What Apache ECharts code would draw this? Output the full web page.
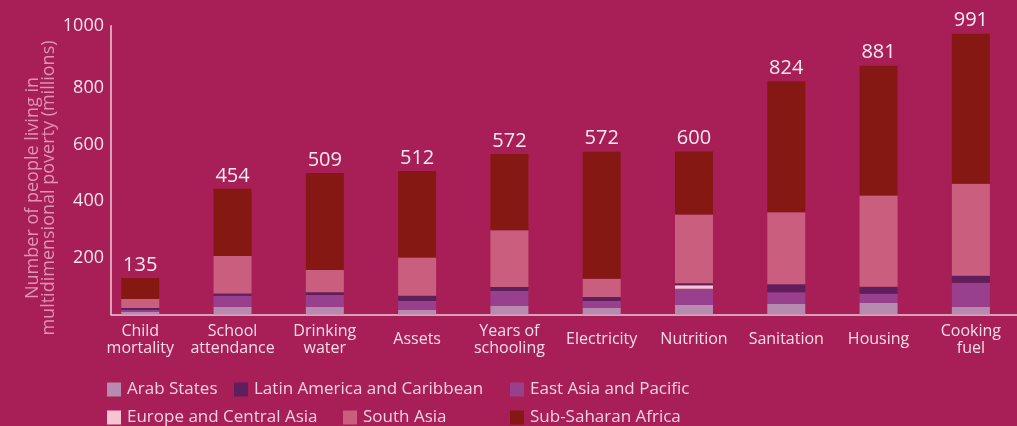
<!DOCTYPE html>
<html>
<head>
<meta charset="utf-8">
<script src="https://cdn.jsdelivr.net/npm/echarts@6/dist/echarts.min.js"></script>
<style>
html,body{margin:0;padding:0;background:#A71F56;}
#chart{width:1017px;height:426px;}
</style>
</head>
<body>
<div id="chart"></div>
<script>
const categories = ['Child\nmortality', 'School\nattendance', 'Drinking\nwater', 'Assets', 'Years of\nschooling', 'Electricity', 'Nutrition', 'Sanitation', 'Housing', 'Cooking\nfuel'];
const totals = [135, 454, 509, 512, 572, 572, 600, 824, 881, 991];
const arabStates = [10, 27, 27, 16, 30, 23, 34, 37, 41, 27];
const eastAsiaPacific = [6, 39, 42, 32, 53, 25, 57, 42, 32, 85];
const europeCentralAsia = [0, 0, 0, 0, 0, 0, 12, 0, 0, 0];
const latinAmerica = [7, 8, 10, 18, 14, 14, 7, 28, 25, 25];
const southAsia = [32, 133, 78, 135, 201, 64, 243, 254, 322, 325];
const subSaharan = [74, 237, 343, 306, 269, 449, 223, 463, 459, 530];
const yTicks = [200, 400, 600, 800, 1000];

const FONT = 'Open Sans';
const chart = echarts.init(document.getElementById('chart'));

const seriesDefs = [
  {name: 'Arab States', data: arabStates, color: '#B78AB0'},
  {name: 'East Asia and Pacific', data: eastAsiaPacific, color: '#98408E'},
  {name: 'Europe and Central Asia', data: europeCentralAsia, color: '#F7C5CF'},
  {name: 'Latin America and Caribbean', data: latinAmerica, color: '#5F1F5C'},
  {name: 'South Asia', data: southAsia, color: '#C95E7F'},
  {name: 'Sub-Saharan Africa', data: subSaharan, color: '#861814'}
];

const series = seriesDefs.map((s, si) => ({
  name: s.name,
  type: 'bar',
  stack: 'total',
  barWidth: 38,
  itemStyle: {color: s.color},
  encode: {x: 1, y: 0},
  data: s.data.map((v, i) => [v, i]),
  label: si === seriesDefs.length - 1 ? {
    show: true,
    position: 'top',
    distance: 3,
    color: '#F8EAF0',
    fontFamily: FONT,
    fontSize: 20,
    formatter: p => String(totals[p.dataIndex])
  } : {show: false},
  emphasis: {disabled: true}
}));

const legendPos = [
  ['Arab States', 107, 381],
  ['Latin America and Caribbean', 234, 381],
  ['East Asia and Pacific', 510, 381],
  ['Europe and Central Asia', 107, 409],
  ['South Asia', 343, 409],
  ['Sub-Saharan Africa', 510, 409]
];

const legends = legendPos.map(([n, l, t]) => ({
  data: [n],
  left: l,
  top: t,
  padding: 0,
  itemWidth: 14,
  itemHeight: 14,
  icon: 'rect',
  selectedMode: false,
  textStyle: {color: '#EED3DF', fontFamily: FONT, fontSize: 17, padding: [0, 0, 0, 1]}
}));

chart.setOption({
  backgroundColor: '#A71F56',
  animation: false,
  grid: {left: 111, right: -23, top: 25.8, bottom: 111.5},
  legend: legends,
  xAxis: {
    type: 'value',
    min: -0.317,
    max: 9.5,
    splitLine: {show: false},
    axisTick: {show: false},
    axisLine: {show: true, onZero: false, lineStyle: {color: '#EBCCD9', width: 1.5}},
    axisLabel: {
      customValues: categories.map((c, i) => i),
      formatter: v => categories[Math.round(v)] || '',
      color: '#F3DDE6',
      fontFamily: FONT,
      fontSize: 16,
      lineHeight: 17,
      verticalAlign: 'middle',
      margin: 25
    }
  },
  yAxis: {
    type: 'value',
    min: 0,
    max: 1020,
    interval: 200,
    splitLine: {show: false},
    axisTick: {show: false},
    axisLine: {show: true, onZero: false, lineStyle: {color: '#EBCCD9', width: 1.5}},
    axisLabel: {
      color: '#F5E4EB',
      fontFamily: FONT,
      fontSize: 18,
      margin: 7,
      showMinLabel: false,
      formatter: v => (yTicks.indexOf(v) >= 0 ? (v === 1000 ? '{top|' + v + '}' : String(v)) : ''),
      rich: {top: {fontFamily: FONT, fontSize: 18, color: '#F5E4EB', padding: [0, 0, 12, 0]}}
    }
  },
  graphic: [{
    type: 'text',
    x: 41,
    y: 188,
    rotation: Math.PI / 2,
    style: {
      text: 'Number of people living in\nmultidimensional poverty (millions)',
      fill: '#DE93B5',
      font: '18px "Open Sans"',
      lineHeight: 16,
      align: 'center',
      verticalAlign: 'middle'
    }
  }],
  series: series
});
</script>
</body>
</html>
